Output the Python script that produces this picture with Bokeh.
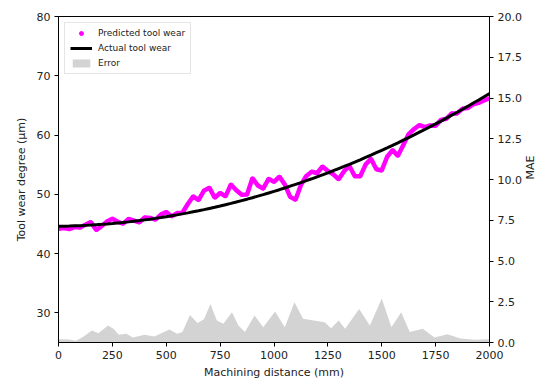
import math
from bokeh.plotting import figure
from bokeh.models import (Range1d, LinearAxis, FixedTicker, PrintfTickFormatter,
                          Legend, LegendItem, ColumnDataSource)
from bokeh.embed import file_html
from bokeh.resources import INLINE

# ---------------- data ----------------
distance = [0, 25, 50, 75, 100, 125, 150, 175, 200, 225, 250, 275, 300, 325, 350, 375,
            400, 425, 450, 475, 500, 525, 550, 575, 600, 625, 650, 675, 700, 725, 750, 775,
            800, 825, 850, 875, 900, 925, 950, 975, 1000, 1025, 1050, 1075, 1100, 1125, 1150,
            1175, 1200, 1225, 1250, 1275, 1300, 1325, 1350, 1375, 1400, 1425, 1450, 1475, 1500,
            1525, 1550, 1575, 1600, 1625, 1650, 1675, 1700, 1725, 1750, 1775, 1800, 1825, 1850,
            1875, 1900, 1925, 1950, 1975, 2000]

actual_wear = [44.60, 44.62, 44.64, 44.68, 44.71, 44.76, 44.81, 44.87, 44.93, 45.00, 45.08,
               45.17, 45.26, 45.35, 45.46, 45.57, 45.69, 45.81, 45.94, 46.08, 46.23, 46.38,
               46.53, 46.70, 46.87, 47.05, 47.23, 47.42, 47.62, 47.82, 48.03, 48.25, 48.47,
               48.70, 48.94, 49.18, 49.43, 49.69, 49.95, 50.22, 50.50, 50.78, 51.07, 51.37,
               51.67, 51.98, 52.30, 52.62, 52.95, 53.29, 53.63, 53.98, 54.34, 54.70, 55.07,
               55.45, 55.83, 56.22, 56.61, 57.02, 57.43, 57.84, 58.26, 58.69, 59.13, 59.57,
               60.02, 60.48, 60.94, 61.41, 61.88, 62.36, 62.85, 63.35, 63.85, 64.36, 64.87,
               65.40, 65.92, 66.46, 67.00]

predicted_wear = [44.20, 44.32, 44.14, 44.48, 44.41, 44.86, 45.31, 43.97, 44.63, 45.40, 45.88,
                  45.37, 45.06, 45.85, 45.56, 45.27, 46.09, 46.01, 45.74, 46.58, 47.03, 46.28,
                  46.83, 46.90, 48.37, 49.65, 49.03, 50.62, 51.12, 49.42, 50.23, 49.65, 51.67,
                  50.70, 49.94, 49.98, 52.73, 51.49, 50.95, 52.62, 52.10, 52.98, 51.67, 49.57,
                  49.07, 51.58, 53.10, 53.82, 53.55, 54.69, 53.93, 53.38, 52.54, 53.90, 54.77,
                  53.05, 53.03, 55.02, 56.01, 54.22, 54.03, 56.34, 57.46, 56.49, 58.33, 60.17,
                  61.02, 61.68, 61.34, 61.61, 61.58, 62.56, 62.75, 63.65, 63.65, 64.46, 64.57,
                  65.20, 65.42, 65.86, 66.20]

error_distance = [0, 50, 80, 110, 155, 185, 230, 255, 280, 315, 345, 400, 445, 515, 550, 575,
                  610, 645, 675, 705, 735, 765, 805, 835, 865, 910, 950, 1005, 1050, 1095, 1135,
                  1185, 1235, 1265, 1300, 1330, 1395, 1445, 1500, 1545, 1590, 1630, 1690, 1745,
                  1805, 1865, 1930, 2000]
error_mae = [0.20, 0.18, 0.10, 0.30, 0.74, 0.57, 1.05, 0.84, 0.47, 0.53, 0.30, 0.47, 0.37,
             0.80, 0.53, 0.65, 1.68, 1.19, 1.43, 2.36, 1.35, 1.15, 1.86, 1.04, 0.65, 1.66,
             0.94, 1.90, 0.94, 2.47, 1.45, 1.35, 1.25, 0.88, 1.35, 0.84, 2.06, 1.04, 2.70,
             0.94, 1.86, 0.65, 0.84, 0.30, 0.50, 0.25, 0.17, 0.20]

x_ticks = [0, 250, 500, 750, 1000, 1250, 1500, 1750, 2000]
left_ticks = [30, 40, 50, 60, 70, 80]
right_ticks = [0.0, 2.5, 5.0, 7.5, 10.0, 12.5, 15.0, 17.5, 20.0]

FONT = "DejaVu Sans"
TXT = "#222222"

p = figure(width=546, height=386, output_backend="svg", toolbar_location=None,
           x_range=Range1d(0, 2000), y_range=Range1d(25, 80),
           min_border_left=58, min_border_right=52, min_border_top=16, min_border_bottom=44)
p.grid.visible = False
p.outline_line_color = "black"
p.outline_line_width = 1
p.background_fill_color = "white"
p.border_fill_color = "white"

p.extra_y_ranges = {"mae": Range1d(0, 20)}

src_err = ColumnDataSource(dict(x=error_distance, y=error_mae, z=[0] * len(error_mae)))
r_err = p.varea(x="x", y1="z", y2="y", source=src_err, y_range_name="mae",
                fill_color="#d3d3d3", fill_alpha=1.0)

src = ColumnDataSource(dict(x=distance, a=actual_wear, pr=predicted_wear))
p.line(x="x", y="pr", source=src, line_color="#ff00ff", line_width=4.5)
r_pred = p.scatter(x="x", y="pr", source=src, marker="circle", size=3,
                   fill_color="#ff00ff", line_color="#ff00ff")
r_act = p.line(x="x", y="a", source=src, line_color="black", line_width=3)

def style_axis(ax):
    ax.axis_line_color = "black"
    ax.major_tick_line_color = "black"
    ax.major_tick_out = 4
    ax.major_tick_in = 0
    ax.minor_tick_line_color = None
    ax.major_label_text_font = FONT
    ax.major_label_text_font_size = "11px"
    ax.major_label_text_color = TXT
    ax.axis_label_text_font = FONT
    ax.axis_label_text_font_size = "11px"
    ax.axis_label_text_font_style = "normal"
    ax.axis_label_text_color = TXT
    ax.major_label_standoff = 4

xa = p.xaxis[0]
xa.ticker = FixedTicker(ticks=x_ticks)
xa.axis_label = "Machining distance (mm)"
xa.axis_label_standoff = 4
style_axis(xa)

ya = p.yaxis[0]
ya.ticker = FixedTicker(ticks=left_ticks)
ya.axis_label = "Tool wear degree (μm)"
ya.axis_label_standoff = 6
style_axis(ya)

ra = LinearAxis(y_range_name="mae", ticker=FixedTicker(ticks=right_ticks),
                formatter=PrintfTickFormatter(format="%.1f"), axis_label="MAE")
style_axis(ra)
ra.major_label_standoff = 4
ra.axis_label_standoff = 6
ra.axis_label_orientation = math.pi / 2
p.add_layout(ra, "right")

legend = Legend(items=[LegendItem(label="Predicted tool wear", renderers=[r_pred]),
                       LegendItem(label="Actual tool wear", renderers=[r_act]),
                       LegendItem(label="Error", renderers=[r_err])],
                location="top_left")
legend.margin = 6
legend.padding = 5
legend.spacing = 5
legend.label_text_font = FONT
legend.label_text_font_size = "9px"
legend.label_text_color = TXT
legend.label_height = 10
legend.glyph_height = 10
legend.glyph_width = 22
legend.label_standoff = 6
legend.border_line_color = "#cccccc"
legend.background_fill_alpha = 0.85
p.add_layout(legend)

open("out.html", "w").write(file_html(p, INLINE))
